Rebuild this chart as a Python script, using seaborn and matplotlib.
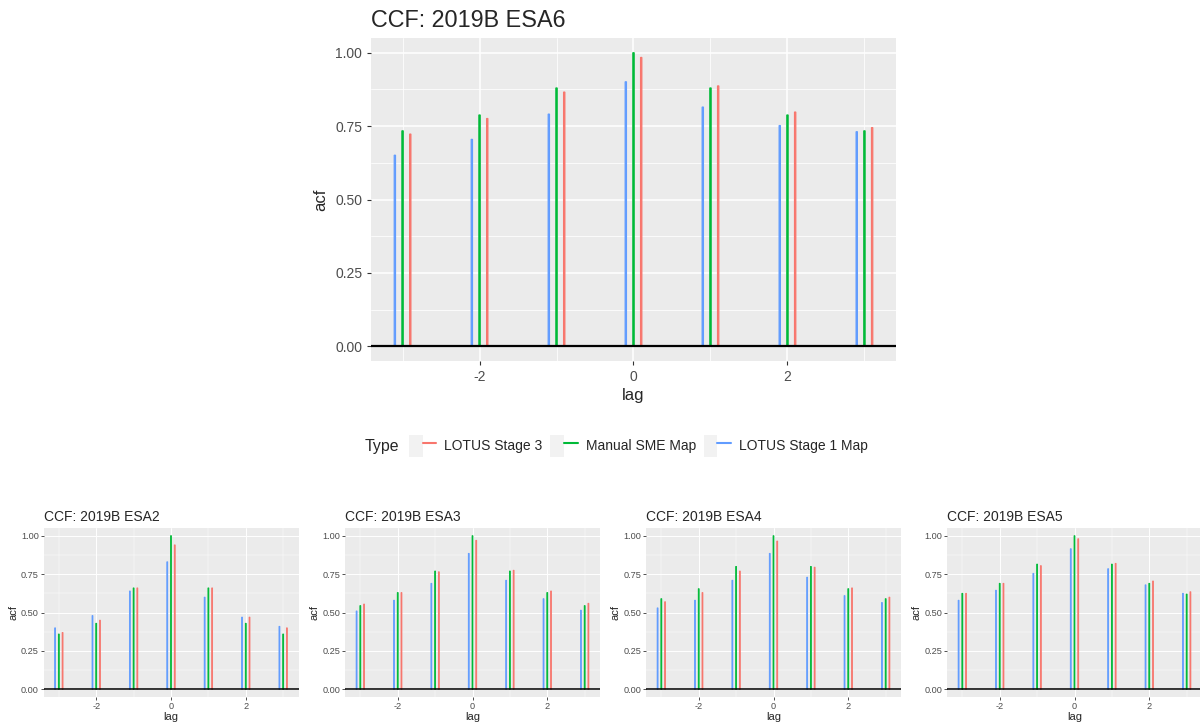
import matplotlib
matplotlib.use("Agg")
from matplotlib import pyplot as plt
from matplotlib.lines import Line2D
from matplotlib.patches import Patch
from matplotlib.legend_handler import HandlerTuple
from matplotlib.ticker import FixedLocator
import pandas as pd
import seaborn as sns

lags = [-3, -2, -1, 0, 1, 2, 3]
types = ["LOTUS Stage 1 Map", "Manual SME Map", "LOTUS Stage 3"]
colors = {"LOTUS Stage 3": "#F8766D", "Manual SME Map": "#00BA38", "LOTUS Stage 1 Map": "#619CFF"}

# acf values per panel: (stage 1 map, manual sme map, stage 3)
esa6_stage1 = [0.651, 0.705, 0.791, 0.901, 0.815, 0.752, 0.731]
esa6_manual = [0.734, 0.788, 0.880, 1.000, 0.880, 0.788, 0.734]
esa6_stage3 = [0.723, 0.776, 0.866, 0.984, 0.887, 0.798, 0.745]

esa2_stage1 = [0.40, 0.48, 0.64, 0.83, 0.60, 0.47, 0.41]
esa2_manual = [0.36, 0.43, 0.66, 1.00, 0.66, 0.43, 0.36]
esa2_stage3 = [0.37, 0.45, 0.66, 0.94, 0.66, 0.47, 0.40]

esa3_stage1 = [0.51, 0.58, 0.69, 0.885, 0.71, 0.59, 0.515]
esa3_manual = [0.545, 0.63, 0.77, 1.00, 0.77, 0.63, 0.545]
esa3_stage3 = [0.555, 0.63, 0.765, 0.97, 0.775, 0.64, 0.56]

esa4_stage1 = [0.53, 0.58, 0.71, 0.885, 0.73, 0.61, 0.565]
esa4_manual = [0.59, 0.655, 0.80, 1.00, 0.80, 0.655, 0.59]
esa4_stage3 = [0.57, 0.63, 0.77, 0.965, 0.795, 0.66, 0.60]

esa5_stage1 = [0.58, 0.645, 0.755, 0.915, 0.785, 0.68, 0.625]
esa5_manual = [0.625, 0.69, 0.815, 1.00, 0.815, 0.69, 0.62]
esa5_stage3 = [0.625, 0.69, 0.805, 0.98, 0.82, 0.705, 0.635]


def make_df(s1, man, s3):
    rows = []
    for name, vals in zip(types, [s1, man, s3]):
        for lag, v in zip(lags, vals):
            rows.append({"lag": lag, "acf": v, "Type": name})
    return pd.DataFrame(rows)


def ccf_panel(ax, df, title, big):
    fs_title = 16.8 if big else 10
    fs_tick = 10 if big else 6.6
    fs_lab = 12 if big else 8
    sns.barplot(data=df, x="lag", y="acf", hue="Type", hue_order=types,
                palette=colors, saturation=1, native_scale=True, width=0.3,
                gap=0.82 if big else 0.75, errorbar=None, legend=False,
                linewidth=0, ax=ax)
    # thin bars: give them an edge so they always show at least ~1.5 px
    for p in ax.patches:
        p.set_edgecolor(p.get_facecolor())
        p.set_linewidth(0.8 if big else 0.6)
        p.set_snap(False)
    ax.axhline(0, color="black", lw=1.6 if big else 1.1, zorder=3)
    ax.set_xlim(-3.41, 3.41)
    ax.set_ylim(-0.05, 1.05)
    ax.set_facecolor("#EBEBEB")
    ax.xaxis.set_major_locator(FixedLocator([-2, 0, 2]))
    ax.xaxis.set_minor_locator(FixedLocator([-3, -1, 1, 3]))
    ax.yaxis.set_major_locator(FixedLocator([0, 0.25, 0.5, 0.75, 1.0]))
    ax.yaxis.set_minor_locator(FixedLocator([0.125, 0.375, 0.625, 0.875]))
    ax.set_yticklabels(["0.00", "0.25", "0.50", "0.75", "1.00"])
    ax.set_xticklabels(["-2", "0", "2"])
    ax.grid(which="major", color="white", lw=1.1 if big else 0.7)
    ax.grid(which="minor", color="white", lw=0.55 if big else 0.35)
    ax.set_axisbelow(True)
    for s in ax.spines.values():
        s.set_visible(False)
    ax.tick_params(which="major", bottom=True, left=True,
                   length=2.9 if big else 2.2, width=0.8 if big else 0.6,
                   color="#333333", labelcolor="#4D4D4D", labelsize=fs_tick,
                   pad=3.4 if big else 1.2)
    ax.tick_params(which="minor", bottom=False, left=False, length=0)
    ax.set_xlabel("lag", fontsize=fs_lab, labelpad=3 if big else 1)
    ax.set_ylabel("acf", fontsize=fs_lab, labelpad=5 if big else 2)
    ax.set_title(title, loc="left", fontsize=fs_title, pad=8 if big else 5)


sns.set_theme(style="darkgrid")
plt.rcParams["font.family"] = ["Liberation Sans", "DejaVu Sans"]

fig = plt.figure(figsize=(12, 7.28), dpi=100)

ax_main = fig.add_axes([371 / 1200, 1 - 361 / 728, 525 / 1200, 323 / 728])
ccf_panel(ax_main, make_df(esa6_stage1, esa6_manual, esa6_stage3), "CCF: 2019B ESA6", True)

small = [
    (43.5, "CCF: 2019B ESA2", esa2_stage1, esa2_manual, esa2_stage3),
    (345, "CCF: 2019B ESA3", esa3_stage1, esa3_manual, esa3_stage3),
    (646, "CCF: 2019B ESA4", esa4_stage1, esa4_manual, esa4_stage3),
    (947, "CCF: 2019B ESA5", esa5_stage1, esa5_manual, esa5_stage3),
]
for left, title, a, b, c in small:
    ax = fig.add_axes([left / 1200, 1 - 697 / 728, 255 / 1200, 169 / 728])
    ccf_panel(ax, make_df(a, b, c), title, False)

# legend: order as in the original
legend_order = ["LOTUS Stage 3", "Manual SME Map", "LOTUS Stage 1 Map"]
handles = [(Patch(facecolor="#F2F2F2", edgecolor="none"),
            Line2D([], [], color=colors[t], lw=1.5)) for t in legend_order]
fig.text(365 / 1200, 1 - 446 / 728, "Type", fontsize=11.4, va="center", ha="left")
fig.legend(handles, legend_order, handler_map={tuple: HandlerTuple(ndivide=None)},
           loc="center left", bbox_to_anchor=(409 / 1200, 1 - 446 / 728), ncol=3,
           frameon=False, fontsize=10, handlelength=1.95, handleheight=2.0,
           handletextpad=0.58, columnspacing=0.58, borderaxespad=0, borderpad=0)

fig.savefig("out.png", dpi=100)
